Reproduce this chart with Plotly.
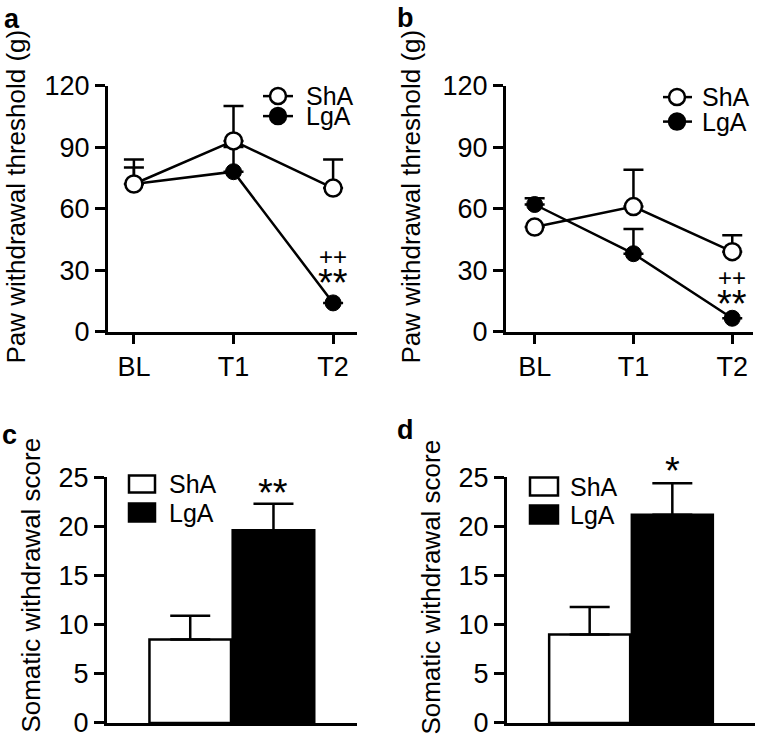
import plotly.graph_objects as go

W, H = 760, 750
FONT = "Arial, Liberation Sans, sans-serif"

# ---------------- data ----------------
timepoints = ["BL", "T1", "T2"]
groups = ["ShA", "LgA"]

# panel a: paw withdrawal threshold (g)
a_sha = [72, 93, 70]
a_sha_err = [12, 17, 14]
a_lga = [72, 78, 14]
a_lga_err = [8, 12, 0]

# panel b
b_sha = [51, 61, 39]
b_sha_err = [0, 18, 8]
b_lga = [62, 38, 6.5]
b_lga_err = [3, 12, 0]

# panel c / d: somatic withdrawal score
c_vals = [8.5, 19.6]
c_err = [2.4, 2.7]
d_vals = [9.0, 21.2]
d_err = [2.8, 3.2]

y_ticks_thr = [0, 30, 60, 90, 120]
y_ticks_score = [0, 5, 10, 15, 20, 25]

# vertical calibration of the rendering (observed: shown_y = 0.96 * layout_y + 15.4)
VS, VO = 0.96, 15.4


def px(x):
    return x / W


def py(y):
    yl = (y - VO) / VS
    return 1 - yl / H


fig = go.Figure()

LW = 2.5


def line_traces(xa, ya, sha, sha_err, lga, lga_err):
    fig.add_trace(go.Scatter(
        x=timepoints, y=lga, name="LgA", mode="lines+markers",
        xaxis=xa, yaxis=ya, showlegend=False, cliponaxis=False,
        line=dict(color="black", width=LW),
        marker=dict(symbol="circle", size=16, color="black",
                    line=dict(color="black", width=1)),
        error_y=dict(type="data", symmetric=False, array=lga_err,
                     arrayminus=[0] * len(lga_err), color="black",
                     thickness=2.5, width=10),
    ))
    fig.add_trace(go.Scatter(
        x=timepoints, y=sha, name="ShA", mode="lines+markers",
        xaxis=xa, yaxis=ya, showlegend=False, cliponaxis=False,
        line=dict(color="black", width=LW),
        marker=dict(symbol="circle", size=17, color="white",
                    line=dict(color="black", width=2.5)),
        error_y=dict(type="data", symmetric=False, array=sha_err,
                     arrayminus=[0] * len(sha_err), color="black",
                     thickness=2.5, width=10),
    ))


def bar_trace(xa, ya, vals, err):
    fig.add_trace(go.Bar(
        x=groups, y=vals, xaxis=xa, yaxis=ya, showlegend=False,
        width=0.98, cliponaxis=False,
        marker=dict(color=["white", "black"],
                    line=dict(color="black", width=2.5)),
        error_y=dict(type="data", symmetric=False, array=err,
                     arrayminus=[0] * len(err), color="black",
                     thickness=2.5, width=20),
    ))


line_traces("x", "y", a_sha, a_sha_err, a_lga, a_lga_err)
line_traces("x2", "y2", b_sha, b_sha_err, b_lga, b_lga_err)
bar_trace("x3", "y3", c_vals, c_err)
bar_trace("x4", "y4", d_vals, d_err)

TICKF = dict(family=FONT, size=27, color="black")
common_y = dict(showgrid=False, zeroline=False, showline=True, linecolor="black",
                linewidth=3, ticks="outside", ticklen=10, tickwidth=3,
                tickcolor="black", tickfont=TICKF, fixedrange=True)
common_x = dict(showgrid=False, zeroline=False, showline=True, linecolor="black",
                linewidth=3, tickfont=TICKF, fixedrange=True)

fig.update_layout(
    width=W, height=H, margin=dict(l=0, r=0, t=0, b=0),
    paper_bgcolor="white", plot_bgcolor="white",
    font=dict(family=FONT, color="black"),
    xaxis=dict(domain=[px(108), px(357)], anchor="y", range=[-0.26, 2.24],
               ticks="outside", ticklen=9, tickwidth=3, tickcolor="black", **common_x),
    yaxis=dict(domain=[py(332), py(86)], anchor="x", range=[0, 120],
               tickvals=y_ticks_thr, **common_y),
    xaxis2=dict(domain=[px(506), px(753)], anchor="y2", range=[-0.29, 2.21],
                ticks="outside", ticklen=9, tickwidth=3, tickcolor="black", **common_x),
    yaxis2=dict(domain=[py(332), py(86)], anchor="x2", range=[0, 120],
                tickvals=y_ticks_thr, **common_y),
    xaxis3=dict(domain=[px(107), px(356.7)], anchor="y3", range=[-1, 2],
                ticks="", showticklabels=False, **common_x),
    yaxis3=dict(domain=[py(723.3), py(477.7)], anchor="x3", range=[0, 25],
                tickvals=y_ticks_score, **common_y),
    xaxis4=dict(domain=[px(507), px(755)], anchor="y4", range=[-1, 2],
                ticks="", showticklabels=False, **common_x),
    yaxis4=dict(domain=[py(723.3), py(477.7)], anchor="x4", range=[0, 25],
                tickvals=y_ticks_score, **common_y),
)

ann = []
shapes = []

# panel letters
for lab, x, y in [("a", 12, 19), ("b", 405, 18), ("c", 9, 435), ("d", 405, 430)]:
    ann.append(dict(text=f"<b>{lab}</b>", x=px(x), y=py(y), xref="paper", yref="paper",
                    showarrow=False, xanchor="center", yanchor="middle",
                    font=dict(family=FONT, size=27, color="black")))

# y-axis titles
for txt, x, y in [("Paw withdrawal threshold (g)", 16, 197),
                  ("Paw withdrawal threshold (g)", 411, 197),
                  ("Somatic withdrawal score", 31, 586),
                  ("Somatic withdrawal score", 431, 588)]:
    ann.append(dict(text=txt, x=px(x), y=py(y), xref="paper", yref="paper",
                    showarrow=False, textangle=-90, xanchor="center", yanchor="middle",
                    font=dict(family=FONT, size=26, color="black")))

# significance marks
SIGF = dict(family=FONT, size=24, color="black")
STARF = dict(family=FONT, size=38, color="black")
ann += [
    dict(text="++", x="T2", y=36.5, xref="x", yref="y", showarrow=False, font=SIGF),
    dict(text="**", x="T2", y=23.5, xref="x", yref="y", showarrow=False, font=STARF),
    dict(text="++", x="T2", y=26.3, xref="x2", yref="y2", showarrow=False, font=SIGF),
    dict(text="**", x="T2", y=13.6, xref="x2", yref="y2", showarrow=False, font=STARF),
    dict(text="**", x="LgA", y=23.4, xref="x3", yref="y3", showarrow=False, font=STARF),
    dict(text="*", x="LgA", y=25, yshift=6, xref="x4", yref="y4", showarrow=False, font=STARF),
]

LEGF = dict(family=FONT, size=25, color="black")

# line-chart legends (a, b)
for (lx0, lx1, cx, tx, y1, y2) in [(263, 293, 278, 304, 96.5, 116.5),
                                   (663, 692, 677, 700, 97.5, 122)]:
    for name, yy, fill in [("ShA", y1, "white"), ("LgA", y2, "black")]:
        shapes.append(dict(type="line", xref="paper", yref="paper",
                           x0=px(lx0), x1=px(lx1), y0=py(yy), y1=py(yy),
                           line=dict(color="black", width=LW)))
        r = 8
        shapes.append(dict(type="circle", xref="paper", yref="paper",
                           x0=px(cx - r), x1=px(cx + r), y0=py(yy + r), y1=py(yy - r),
                           fillcolor=fill, line=dict(color="black", width=2.5)))
        ann.append(dict(text=name, x=px(tx), y=py(yy), xref="paper", yref="paper",
                        showarrow=False, xanchor="left", yanchor="middle", font=LEGF))

# bar-chart legends (c, d)
for (bx0, bx1, tx, s0, s1, l0, l1) in [(129, 155, 167, 476, 493, 504, 522),
                                        (530, 558, 568, 478, 496, 506, 524)]:
    for name, y0, y1, fill in [("ShA", s0, s1, "white"), ("LgA", l0, l1, "black")]:
        shapes.append(dict(type="rect", xref="paper", yref="paper",
                           x0=px(bx0), x1=px(bx1), y0=py(y1), y1=py(y0),
                           fillcolor=fill, line=dict(color="black", width=2.5)))
        ann.append(dict(text=name, x=px(tx), y=py((y0 + y1) / 2), xref="paper", yref="paper",
                        showarrow=False, xanchor="left", yanchor="middle", font=LEGF))

fig.update_layout(annotations=ann, shapes=shapes)

fig.write_html("out.html", config={"displayModeBar": False},
               post_script="document.body.style.margin='0';document.body.style.overflow='hidden';")
